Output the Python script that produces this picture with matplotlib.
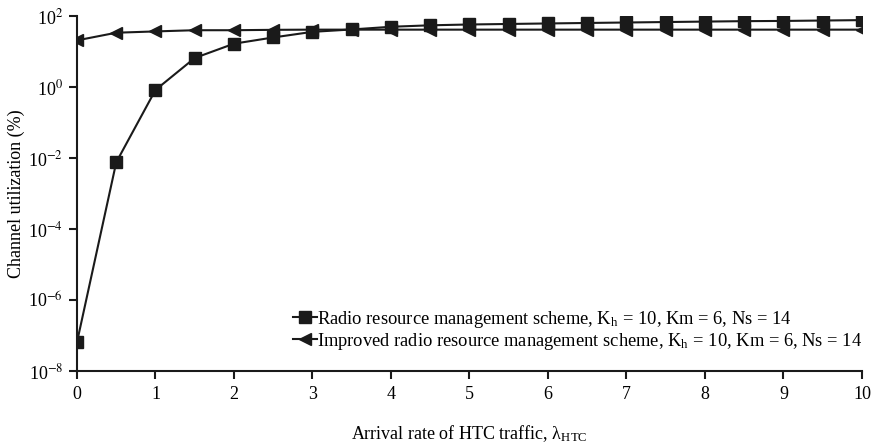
import numpy as np
import matplotlib.pyplot as plt
from matplotlib.ticker import FixedLocator

plt.rcParams['font.family'] = ['Liberation Serif', 'DejaVu Serif']
plt.rcParams['mathtext.fontset'] = 'stix'

# arrival rate of HTC traffic
x = [0, 0.5, 1, 1.5, 2, 2.5, 3, 3.5, 4, 4.5, 5, 5.5, 6, 6.5, 7, 7.5, 8, 8.5, 9, 9.5, 10]

# channel utilization (%)
rrm = [6.5e-8, 0.0076, 0.83, 6.6, 16.7, 25, 36, 42, 50, 55, 58, 60, 62, 64,
       66, 68, 70, 72, 73, 75, 77]
improved = [20.7, 34, 37, 40, 40, 41, 41.5, 41.5, 41.5, 41.5, 41.5, 41.5, 41.5,
            41.5, 41.5, 41.5, 41.5, 41.5, 41.5, 41.5, 41.5]

xticks = list(range(0, 11))
yticks = [1e-8, 1e-6, 1e-4, 1e-2, 1e0, 1e2]
ytick_labels = ['10$^{-8}$', '10$^{-6}$', '10$^{-4}$', '10$^{-2}$', '10$^{0}$', '10$^{2}$']

fig = plt.figure(figsize=(8.72, 4.47), dpi=100)
ax = fig.add_axes([0.0883, 0.170, 0.9002, 0.794])

ax.semilogy(x, rrm, color='#1a1a1a', lw=1.5, marker='s', ms=8,
            label='Radio resource management scheme, K$_\\mathregular{h}$ = 10, Km = 6, Ns = 14')
ax.semilogy(x, improved, color='#1a1a1a', lw=1.5, marker='<', ms=8.5,
            label='Improved radio resource management scheme, K$_\\mathregular{h}$ = 10, Km = 6, Ns = 14')

ax.set_xlim(0, 10)
ax.set_ylim(1e-8, 1e2)
ax.set_xticks(xticks)
ax.yaxis.set_major_locator(FixedLocator(yticks))
ax.yaxis.set_minor_locator(FixedLocator([]))
ax.set_yticklabels(ytick_labels)
ax.tick_params(direction='out', length=6, width=1.5, labelsize=13, color='#1a1a1a')
ax.tick_params(axis='x', pad=5)
ax.tick_params(axis='y', pad=4)

for s in ['top', 'right']:
    ax.spines[s].set_visible(False)
for s in ['left', 'bottom']:
    ax.spines[s].set_linewidth(1.5)
    ax.spines[s].set_color('#1a1a1a')

ax.set_xlabel('Arrival rate of HTC traffic, $\\mathregular{\\lambda}_\\mathregular{HTC}$',
              fontsize=13, labelpad=14)
ax.set_ylabel('Channel utilization (%)', fontsize=13, labelpad=2)

ax.legend(loc='lower right', bbox_to_anchor=(1.0, 0.054), frameon=False,
          fontsize=13.3, handlelength=1.3, handletextpad=0.0, labelspacing=0.05,
          borderpad=0.0, borderaxespad=0.0)

fig.savefig('out.png', dpi=100)
